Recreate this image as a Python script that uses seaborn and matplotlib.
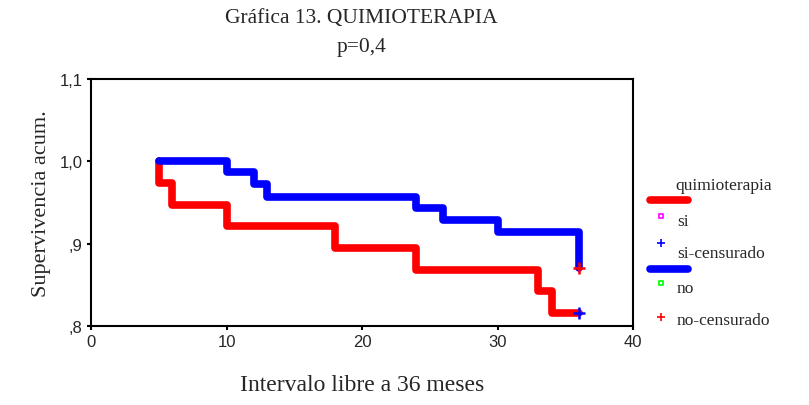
import matplotlib
matplotlib.use("Agg")
import matplotlib.pyplot as plt
from matplotlib.lines import Line2D
import seaborn as sns
import pandas as pd

# Kaplan-Meier steps
si_time = [5, 5, 6, 10, 18, 24, 33, 34, 36]
si_surv = [1.0, 0.974, 0.947, 0.921, 0.895, 0.868, 0.842, 0.816, 0.816]
no_time = [5, 10, 12, 13, 24, 26, 30, 36, 36]
no_surv = [1.0, 0.987, 0.972, 0.957, 0.943, 0.929, 0.914, 0.871, 0.871]

# censored points at the end of follow-up
si_cens_time = [36]
si_cens_surv = [0.816]
no_cens_time = [36]
no_cens_surv = [0.871]

x_ticks = [0, 10, 20, 30, 40]
y_ticks = [0.8, 0.9, 1.0, 1.1]
y_labels = [",8", ",9", "1,0", "1,1"]

sns.set_style("ticks")
plt.rcParams['font.family'] = ['Liberation Sans', 'DejaVu Sans']

fig = plt.figure(figsize=(8.09, 4.06), dpi=100)
ax = fig.add_axes([0.1125, 0.1946, 0.670, 0.608])

si_df = pd.DataFrame({'t': si_time, 's': si_surv})
no_df = pd.DataFrame({'t': no_time, 's': no_surv})

sns.lineplot(data=si_df, x='t', y='s', ax=ax, drawstyle='steps-post', sort=False,
             estimator=None, color='#ff0000', linewidth=5.5,
             solid_capstyle='round', solid_joinstyle='round')
sns.lineplot(data=no_df, x='t', y='s', ax=ax, drawstyle='steps-post', sort=False,
             estimator=None, color='#0000ff', linewidth=5.5,
             solid_capstyle='round', solid_joinstyle='round')

sns.scatterplot(x=si_cens_time, y=si_cens_surv, ax=ax, marker='+', s=70,
                color='#0000ff', linewidth=1.8, zorder=5)
sns.scatterplot(x=no_cens_time, y=no_cens_surv, ax=ax, marker='+', s=70,
                color='#ff0000', linewidth=1.8, zorder=5)

ax.set_xlim(0, 40)
ax.set_ylim(0.8, 1.1)
ax.set_xticks(x_ticks)
ax.set_yticks(y_ticks)
ax.set_yticklabels(y_labels)
ax.tick_params(labelsize=12, length=3, width=1.5, color='black', pad=3)
for sp in ax.spines.values():
    sp.set_visible(True)
    sp.set_linewidth(1.5)
    sp.set_color('black')

serif = ['Liberation Serif', 'DejaVu Serif']
ax.set_xlabel("Intervalo libre a 36 meses", family=serif, fontsize=17, labelpad=18)
ax.set_ylabel("Supervivencia acum.", family=serif, fontsize=16, labelpad=6)

fig.text(0.447, 0.955, "Gráfica 13. QUIMIOTERAPIA", family=serif, fontsize=15.5,
         ha='center', va='center')
fig.text(0.447, 0.882, "p=0,4", family=serif, fontsize=15.5, ha='center', va='center')

# legend drawn by hand, SPSS style
def fig_line(x0, x1, y, color):
    fig.add_artist(Line2D([x0 / 809, x1 / 809], [1 - y / 406, 1 - y / 406],
                          color=color, linewidth=5.5, solid_capstyle='round'))

def fig_mark(x, y, marker, color, size):
    fig.add_artist(Line2D([x / 809], [1 - y / 406], marker=marker, color=color,
                          markersize=size, markeredgewidth=1.2,
                          markerfacecolor='none', linestyle='none'))

fs = 12.5
fig.text(675 / 809, 1 - 186 / 406, "quimioterapia", family=serif, fontsize=fs, va='center')
fig_line(650, 688, 201, '#ff0000')
fig_mark(661, 217, 's', '#ff00ff', 3)
fig.text(677 / 809, 1 - 222 / 406, "si", family=serif, fontsize=fs, va='center')
fig_mark(661, 244, '+', '#0000ff', 6)
fig.text(677 / 809, 1 - 254 / 406, "si-censurado", family=serif, fontsize=fs, va='center')
fig_line(650, 688, 270, '#0000ff')
fig_mark(661, 284, 's', '#00ff00', 3)
fig.text(677 / 809, 1 - 289 / 406, "no", family=serif, fontsize=fs, va='center')
fig_mark(661, 318, '+', '#ff0000', 6)
fig.text(677 / 809, 1 - 321 / 406, "no-censurado", family=serif, fontsize=fs, va='center')

fig.savefig("out.png", dpi=100)
